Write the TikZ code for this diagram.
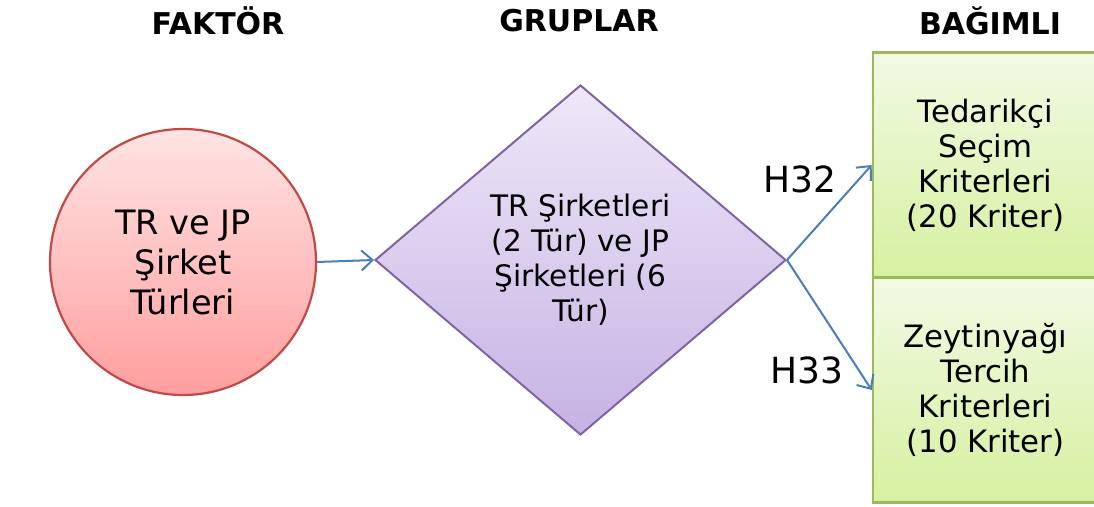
\documentclass[tikz,border=0pt]{standalone}
\usepackage{fontspec}
\setmainfont{DejaVu Sans}
\usetikzlibrary{shapes.geometric,arrows.meta}

\definecolor{redline}{RGB}{190,75,72}
\definecolor{redtop}{RGB}{255,228,228}
\definecolor{redbot}{RGB}{255,158,158}
\definecolor{purpline}{RGB}{128,100,162}
\definecolor{purptop}{RGB}{238,232,248}
\definecolor{purpbot}{RGB}{198,178,228}
\definecolor{greenline}{RGB}{155,187,89}
\definecolor{greentop}{RGB}{242,250,228}
\definecolor{greenbot}{RGB}{214,240,160}
\definecolor{arrowblue}{RGB}{74,126,187}

\tikzset{
  heading/.style={font=\bfseries\fontsize{30}{34}\selectfont, text=black},
  factor/.style={circle, draw=redline, line width=2.2pt, top color=redtop, bottom color=redbot,
    minimum size=266pt, inner sep=0pt, align=center, font=\fontsize{33.6}{40}\selectfont},
  groups/.style={diamond, draw=purpline, line width=2pt, top color=purptop, bottom color=purpbot,
    minimum width=411pt, minimum height=350pt, inner sep=0pt, align=center,
    font=\fontsize{29.6}{35}\selectfont},
  depbox/.style={rectangle, draw=greenline, line width=2.6pt, top color=greentop, bottom color=greenbot,
    minimum width=225pt, minimum height=225pt, inner sep=0pt, align=center,
    font=\fontsize{30.8}{35}\selectfont},
  link/.style={draw=arrowblue, line width=2pt, -{Straight Barb[length=11pt,width=20pt]}},
  hyp/.style={font=\fontsize{36}{40}\selectfont, text=black},
}

\begin{document}
\begin{tikzpicture}[x=1pt,y=-1pt]
\useasboundingbox (0,0) rectangle (1094,506);
\clip (0,0) rectangle (1094,506);
\fill[white] (0,0) rectangle (1094,506);

% column headings
\node[heading] (h1) at (218,21) {FAKTÖR};
\node[heading] (h2) at (579,21) {GRUPLAR};
\node[heading] (h3) at (990,21) {BAĞIMLI};

% factor, groups and dependent variables
\node[factor] (fac) at (183,262) {TR ve JP\\Şirket\\Türleri};
\node[groups] (grp) at (580.5,260) {TR Şirketleri\\(2 Tür) ve JP\\Şirketleri (6\\Tür)};
\node[depbox] (dep1) at (985.5,165) {Tedarikçi\\Seçim\\Kriterleri\\(20 Kriter)};
\node[depbox] (dep2) at (985.5,390) {Zeytinyağı\\Tercih\\Kriterleri\\(10 Kriter)};

% connectors
\draw[link] (fac.east) -- (grp.west);
\draw[link] (grp.east) -- (dep1.west);
\draw[link] (grp.east) -- (dep2.west);

% hypothesis labels
\node[hyp] (l32) at (800,179) {H32};
\node[hyp] (l33) at (807,370) {H33};
\end{tikzpicture}
\end{document}
